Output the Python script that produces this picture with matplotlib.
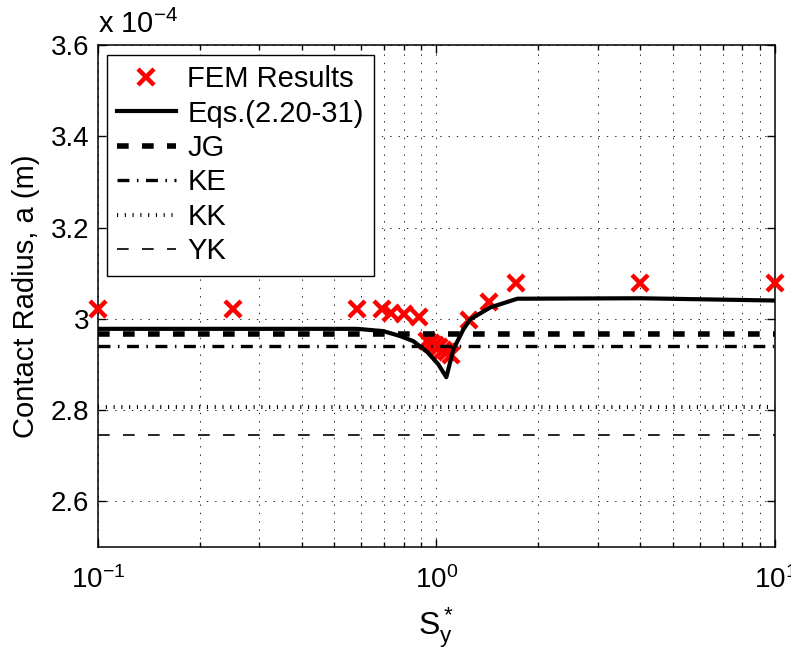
import numpy as np
import matplotlib
matplotlib.use("Agg")
import matplotlib.pyplot as plt
from matplotlib.ticker import LogLocator, LogFormatterMathtext, NullFormatter, FixedLocator

plt.rcParams['font.family'] = ['Liberation Sans', 'DejaVu Sans']
plt.rcParams['mathtext.fontset'] = 'custom'
plt.rcParams['mathtext.rm'] = 'Liberation Sans'
plt.rcParams['mathtext.it'] = 'Liberation Sans'
plt.rcParams['mathtext.default'] = 'regular'
plt.rcParams['lines.scale_dashes'] = False

# contact radius in units of 1e-4 m
fem_sy = [0.1, 0.251, 0.583, 0.689, 0.737, 0.80, 0.886,
          0.940, 0.967, 0.993, 1.021, 1.049, 1.078, 1.107,
          1.252, 1.434, 1.72, 4.0, 10.0]
fem_a = [3.021, 3.021, 3.021, 3.021, 3.013, 3.010, 3.003,
         2.951, 2.946, 2.942, 2.938, 2.931, 2.927, 2.920,
         2.997, 3.036, 3.079, 3.079, 3.079]

eq_sy = [0.1, 0.583, 0.697, 0.783, 0.855, 0.941, 1.014, 1.070,
         1.123, 1.202, 1.260, 1.444, 1.735, 4.0, 10.0]
eq_a = [2.978, 2.978, 2.973, 2.962, 2.951, 2.927, 2.900, 2.872,
        2.933, 2.977, 2.999, 3.025, 3.044, 3.045, 3.040]

sy_range = [0.1, 10.0]
a_jg = 2.966
a_ke = 2.940
a_kk = 2.806
a_yk = 2.746

fig = plt.figure(figsize=(7.91, 6.51), dpi=100)
ax = fig.add_axes([0.1235, 0.1598, 0.8563, 0.7711])

ax.plot(fem_sy, fem_a, linestyle='none', marker='x', color='red',
        markersize=11, markeredgewidth=3.2, clip_on=False, label='FEM Results', zorder=3)
ax.plot(eq_sy, eq_a, color='black', lw=3, label='Eqs.(2.20-31)', zorder=4)
ax.plot(sy_range, [a_jg, a_jg], color='black', lw=4, dashes=(8.4, 9.6),
        dash_capstyle='butt', label='JG', zorder=4)
ax.plot(sy_range, [a_ke, a_ke], color='black', lw=2.4, dashes=(8.6, 5.4, 1.1, 5.4),
        dash_capstyle='butt', label='KE', zorder=4)
ax.plot(sy_range, [a_kk, a_kk], color='black', lw=2.9, dashes=(0.8, 4.8),
        dash_capstyle='butt', label='KK', zorder=4)
ax.plot(sy_range, [a_yk, a_yk], color='black', lw=1.2, dashes=(8.4, 9.6),
        dash_capstyle='butt', label='YK', zorder=4)

ax.set_xscale('log')
ax.set_xlim(0.1, 10)
ax.set_ylim(2.5, 3.6)
ax.yaxis.set_major_locator(FixedLocator([2.6, 2.8, 3.0, 3.2, 3.4, 3.6]))
ax.set_yticklabels(['2.6', '2.8', '3', '3.2', '3.4', '3.6'])
ax.xaxis.set_major_locator(LogLocator(base=10, numticks=5))
ax.xaxis.set_minor_locator(LogLocator(base=10, subs=np.arange(2, 10), numticks=20))
ax.xaxis.set_major_formatter(LogFormatterMathtext())
ax.xaxis.set_minor_formatter(NullFormatter())

ax.tick_params(which='both', direction='in', top=True, right=True, labelsize=20, width=1)
ax.tick_params(which='major', length=6)
ax.tick_params(which='minor', length=3.5)
ax.tick_params(axis='x', pad=14)
ax.tick_params(axis='y', pad=6)
for s in ax.spines.values():
    s.set_linewidth(1.1)

ax.grid(True, which='major', axis='both', color='black', lw=0.6, linestyle=(0, (1, 5)))
ax.grid(True, which='minor', axis='x', color='black', lw=0.6, linestyle=(0, (1, 5)))

ax.set_xlabel(r'$S_y^*$', fontsize=23, labelpad=8)
ax.set_ylabel('Contact Radius, a (m)', fontsize=21, labelpad=8)
ax.text(0.0, 1.024, r'x 10$^{-4}$', transform=ax.transAxes, fontsize=21,
        va='baseline', ha='left')

leg = ax.legend(loc='upper left', bbox_to_anchor=(0.0137, 0.980), borderaxespad=0,
                fontsize=21, frameon=True, fancybox=False, framealpha=1,
                edgecolor='black', handlelength=2.0, handletextpad=0.4,
                labelspacing=0.22, borderpad=0.35)
leg.get_frame().set_linewidth(1.0)

fig.savefig('out.png', dpi=100)
